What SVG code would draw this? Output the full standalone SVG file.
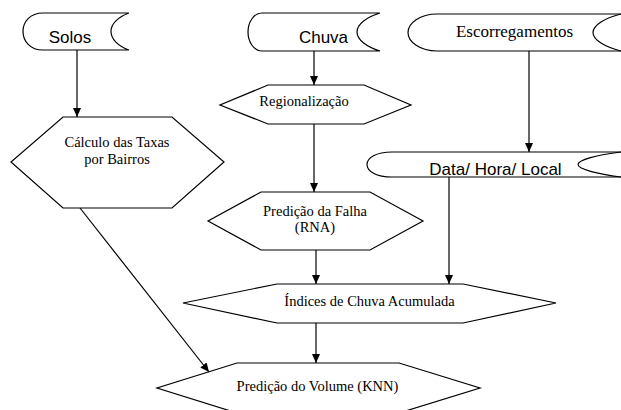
<svg xmlns="http://www.w3.org/2000/svg" width="621" height="410" viewBox="0 0 621 410">
  <style>
    .shape { fill: #fff; stroke: #000; stroke-width: 1.2; }
    .edge { fill: none; stroke: #000; stroke-width: 1.2; }
    .sans { font-family: "Liberation Sans", Arial, sans-serif; font-size: 17px; fill: #000; text-anchor: middle; }
    .serif { font-family: "Liberation Serif", "Times New Roman", serif; font-size: 14.5px; fill: #000; text-anchor: middle; }
  </style>
  <defs>
    <marker id="arrow" markerWidth="10" markerHeight="8" refX="9" refY="4" orient="auto" markerUnits="userSpaceOnUse">
      <path d="M0,0 L9,4 L0,8 Z" fill="#000"/>
    </marker>
  </defs>

  <rect width="621" height="410" fill="#fff"/>

  <!-- stored data: Solos -->
  <g id="solos">
    <path class="shape" d="M43,13 L129,13 C118,17 111,24 111,31.5 C111,39 118,46 129,50 L43,50 C30,50 23,41 23,31.5 C23,22 30,13 43,13 Z"/>
    <text class="sans" x="70" y="43">Solos</text>
  </g>

  <!-- stored data: Chuva -->
  <g id="chuva">
    <path class="shape" d="M262,13 L380,13 C367,17 357,24 357,32 C357,40 367,47 380,51 L262,51 C254,51 248,42 248,32 C248,22 254,13 262,13 Z"/>
    <text class="sans" x="323.5" y="43">Chuva</text>
  </g>

  <!-- stored data: Escorregamentos -->
  <g id="escorregamentos">
    <path class="shape" d="M437,14 L625,14 L625,51 L437,51 C420,51 408,42 408,32.5 C408,23 420,14 437,14 Z"/>
    <path class="edge" d="M621,14 C605,18 593,25 593,32.5 C593,40 605,47 621,51"/>
    <text class="serif" style="font-size:17px" x="514.5" y="37">Escorregamentos</text>
  </g>

  <!-- stored data: Data/ Hora/ Local -->
  <g id="data-hora-local">
    <path class="shape" d="M392,152 L625,152 L625,177 L392,177 C376,177 367,171 367,164.5 C367,158 376,152 392,152 Z"/>
    <path class="edge" d="M621,152 C597,155 578,160 578,164.5 C578,169 597,174 621,177"/>
    <text class="sans" x="495.5" y="175">Data/ Hora/ Local</text>
  </g>

  <!-- process: Cálculo das Taxas por Bairros -->
  <g id="calculo">
    <polygon class="shape" points="63,117 172,117 224,162 172,208 63,208 11,162"/>
    <text class="serif" x="117" y="147">Cálculo das Taxas</text>
    <text class="serif" x="117" y="164">por Bairros</text>
  </g>

  <!-- process: Regionalização -->
  <g id="regionalizacao">
    <polygon class="shape" points="268,85 364,85 411,105 364,124 268,124 220,105"/>
    <text class="serif" x="304" y="105.5">Regionalização</text>
  </g>

  <!-- process: Predição da Falha (RNA) -->
  <g id="predicao-falha">
    <polygon class="shape" points="261,192 370,192 423,221 370,250 261,250 208,221"/>
    <text class="serif" x="315" y="215.5">Predição da Falha</text>
    <text class="serif" x="315" y="232">(RNA)</text>
  </g>

  <!-- process: Índices de Chuva Acumulada -->
  <g id="indices">
    <polygon class="shape" points="277,284 463,284 556,303 463,323 277,323 183,303"/>
    <text class="serif" x="369.5" y="305.5">Índices de Chuva Acumulada</text>
  </g>

  <!-- process: Predição do Volume (KNN) -->
  <g id="predicao-volume">
    <polygon class="shape" points="237,363 399,363 480,388 399,413 237,413 157,388"/>
    <text class="serif" x="317.5" y="391">Predição do Volume (KNN)</text>
  </g>

  <!-- connectors -->
  <g id="connectors">
    <line class="edge" x1="77" y1="50" x2="77" y2="117" marker-end="url(#arrow)"/>
    <line class="edge" x1="314" y1="51" x2="314" y2="85" marker-end="url(#arrow)"/>
    <line class="edge" x1="314" y1="124" x2="314" y2="192" marker-end="url(#arrow)"/>
    <line class="edge" x1="529" y1="51" x2="529" y2="152" marker-end="url(#arrow)"/>
    <line class="edge" x1="316" y1="250" x2="316" y2="284" marker-end="url(#arrow)"/>
    <line class="edge" x1="449" y1="177" x2="449" y2="284" marker-end="url(#arrow)"/>
    <line class="edge" x1="316" y1="323" x2="316" y2="363" marker-end="url(#arrow)"/>
    <line class="edge" x1="80" y1="208" x2="209" y2="372" marker-end="url(#arrow)"/>
  </g>
</svg>
